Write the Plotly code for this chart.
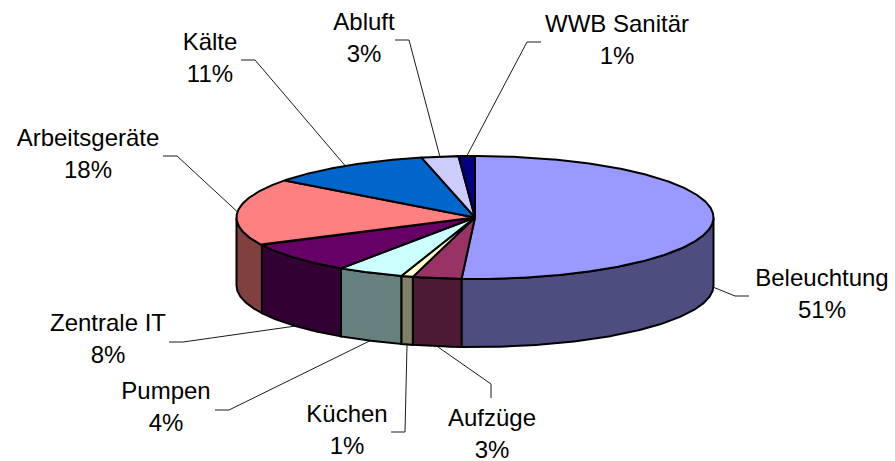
import numpy as np
import plotly.graph_objects as go

# --- data ---
categories = ["Beleuchtung", "Aufzüge", "Küchen", "Pumpen", "Zentrale IT",
              "Arbeitsgeräte", "Kälte", "Abluft", "WWB Sanitär"]
shares = [50.9, 3.3, 0.8, 4.5, 8.1, 17.7, 11.1, 2.5, 1.1]
percent_labels = ["51%", "3%", "1%", "4%", "8%", "18%", "11%", "3%", "1%"]

# --- styles ---
top_colors = ["#9999FF", "#993366", "#FFFFCC", "#CCFFFF", "#660066",
              "#FF8080", "#0066CC", "#CCCCFF", "#000080"]
side_colors = ["#4D4D80", "#4D1A33", "#808066", "#668080", "#330033",
               "#804040", "#003366", "#666680", "#000040"]

# --- layout (pixels) ---
W, H = 895, 461
CX, CY, RX, RY, DEPTH = 475, 217.5, 238.5, 61.5, 68
label_xy = [(822, 280), (492, 420), (347, 416), (166, 393), (108, 325),
            (88, 140), (210, 44), (364, 24), (617, 26)]
LINE_GAP = 32
elbows = [(735, 296), (491, 384), (405, 432), (229, 410), (183, 342),
          (177, 156), (255, 60), (409, 40), (527, 42)]
leader_ends = [(749, 296), (491, 398), (391, 432), (215, 410), (169, 342),
               (163, 156), (241, 60), (395, 40), (541, 42)]
FONT = "Liberation Sans, Arial, sans-serif"
FONT_SIZE = 24


def rim(angle_deg, drop=0.0):
    a = np.radians(angle_deg)
    return CX + RX * np.sin(a), CY - RY * np.cos(a) + drop


fractions = np.array(shares) / sum(shares) * 360
ends = np.cumsum(fractions)
starts = ends - fractions

fig = go.Figure()

# leader lines, underneath the pie
for i, name in enumerate(categories):
    mid = (starts[i] + ends[i]) / 2
    drop = DEPTH if 90 <= mid <= 270 else 0
    ax, ay = rim(mid, drop)
    fig.add_trace(go.Scatter(
        x=[ax, elbows[i][0], leader_ends[i][0]],
        y=[ay, elbows[i][1], leader_ends[i][1]],
        mode="lines", line=dict(color="#1a1a1a", width=1), hoverinfo="skip"))

# visible outer wall of every slice in the front half
for i in range(len(categories)):
    a, b = max(starts[i], 90), min(ends[i], 270)
    if a >= b:
        continue
    t = np.linspace(a, b, max(int(b - a) * 2, 4))
    xt, yt = rim(t)
    xb, yb = rim(t[::-1], DEPTH)
    fig.add_trace(go.Scatter(
        x=np.r_[xt, xb, xt[0]], y=np.r_[yt, yb, yt[0]],
        mode="lines", fill="toself", fillcolor=side_colors[i],
        line=dict(color="black", width=2), hoverinfo="skip"))

# top surface
for i in range(len(categories)):
    t = np.linspace(starts[i], ends[i], max(int(fractions[i]) * 2, 4))
    xt, yt = rim(t)
    fig.add_trace(go.Scatter(
        x=np.r_[CX, xt, CX], y=np.r_[CY, yt, CY],
        mode="lines", fill="toself", fillcolor=top_colors[i],
        line=dict(color="black", width=2), hoverinfo="skip"))

# labels
lx = [p[0] for p in label_xy]
fig.add_trace(go.Scatter(
    x=lx + lx,
    y=[p[1] for p in label_xy] + [p[1] + LINE_GAP for p in label_xy],
    text=categories + percent_labels,
    mode="text", textposition="middle center",
    textfont=dict(family=FONT, size=FONT_SIZE, color="black"),
    hoverinfo="skip"))

fig.update_layout(
    width=W, height=H, margin=dict(l=0, r=0, t=0, b=0),
    paper_bgcolor="white", plot_bgcolor="white", showlegend=False,
    hovermode=False,
    xaxis=dict(range=[0, W], visible=False, fixedrange=True),
    yaxis=dict(range=[H, 0], visible=False, fixedrange=True),
)
fig.write_html("out.html", config={"displayModeBar": False},
               post_script="document.body.style.margin='0';")
